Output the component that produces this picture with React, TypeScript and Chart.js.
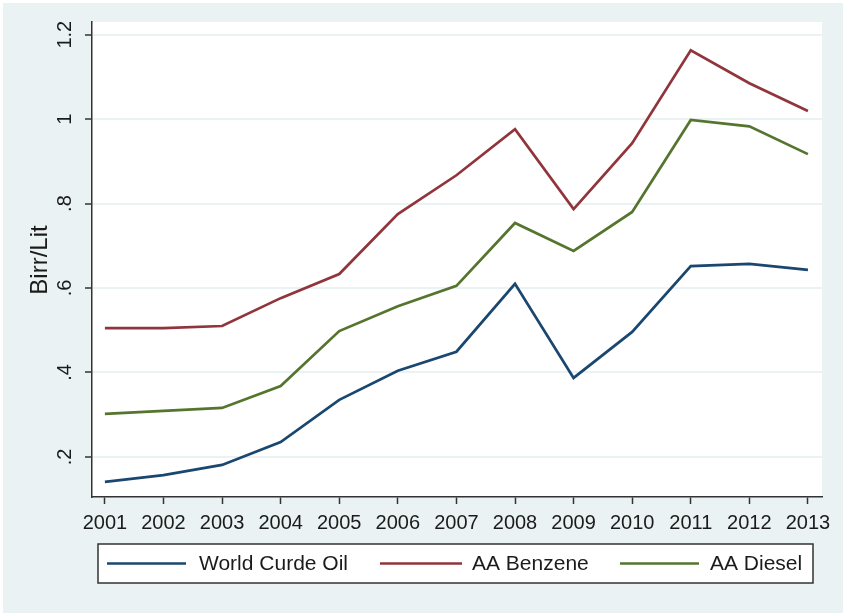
import React, { useEffect, useRef } from "react";
import { Chart, registerables } from "chart.js";

Chart.register(...registerables);

const years = [2001, 2002, 2003, 2004, 2005, 2006, 2007, 2008, 2009, 2010, 2011, 2012, 2013];
const worldCrudeOil = [0.141, 0.157, 0.181, 0.235, 0.335, 0.404, 0.449, 0.61, 0.387, 0.496, 0.652, 0.657, 0.643];
const aaBenzene = [0.505, 0.505, 0.51, 0.576, 0.633, 0.775, 0.867, 0.976, 0.787, 0.943, 1.163, 1.085, 1.019];
const aaDiesel = [0.302, 0.309, 0.316, 0.368, 0.498, 0.557, 0.605, 0.754, 0.688, 0.78, 0.998, 0.983, 0.917];
const seriesLabels = ["World Curde Oil", "AA Benzene", "AA Diesel"];
const yTickValues = [0.2, 0.4, 0.6, 0.8, 1.0, 1.2];
const yTickLabels = [".2", ".4", ".6", ".8", "1", "1.2"];
const yTitle = "Birr/Lit";

const BG = "#eaf2f3";
const FONT = "'Liberation Sans', Arial, sans-serif";
const TEXT = "#1b1b1b";
const AXIS = "#333333";
const COLORS = ["#1a476f", "#90353b", "#55752f"];

const decorPlugin = {
  id: "decor",
  beforeDraw(chart: any) {
    const { ctx, chartArea, width, height } = chart;
    ctx.save();
    ctx.fillStyle = BG;
    ctx.fillRect(0, 0, width, height);
    ctx.fillStyle = "#ffffff";
    ctx.fillRect(chartArea.left, chartArea.top, chartArea.right - chartArea.left, chartArea.bottom - chartArea.top);
    ctx.restore();
  },
  afterDraw(chart: any) {
    const { ctx, chartArea } = chart;
    const y = chart.scales.y;
    ctx.save();
    ctx.fillStyle = TEXT;
    ctx.font = `20px ${FONT}`;
    ctx.textAlign = "center";
    ctx.textBaseline = "middle";
    yTickValues.forEach((v, i) => {
      const py = y.getPixelForValue(v);
      ctx.save();
      ctx.translate(62, py);
      ctx.rotate(-Math.PI / 2);
      ctx.fillText(yTickLabels[i], 0, 0);
      ctx.restore();
    });
    ctx.save();
    ctx.font = `24px ${FONT}`;
    ctx.translate(37, 257);
    ctx.rotate(-Math.PI / 2);
    ctx.fillText(yTitle, 0, 0);
    ctx.restore();

    // legend
    const bx = 95, by = 541, bw = 715, bh = 39;
    ctx.fillStyle = "#ffffff";
    ctx.fillRect(bx, by, bw, bh);
    ctx.strokeStyle = AXIS;
    ctx.lineWidth = 1.5;
    ctx.strokeRect(bx, by, bw, bh);
    const items = [
      { l0: 104, l1: 183, t: 196 },
      { l0: 377, l1: 459, t: 469 },
      { l0: 617, l1: 696, t: 707 },
    ];
    const cy = by + bh / 2;
    chart.data.datasets.forEach((ds: any, i: number) => {
      const it = items[i];
      ctx.strokeStyle = ds.borderColor;
      ctx.lineWidth = 2.5;
      ctx.beginPath();
      ctx.moveTo(it.l0, cy);
      ctx.lineTo(it.l1, cy);
      ctx.stroke();
      ctx.fillStyle = TEXT;
      ctx.font = `21px ${FONT}`;
      ctx.textAlign = "left";
      ctx.textBaseline = "middle";
      ctx.fillText(ds.label, it.t, cy + 1);
    });
    ctx.restore();
  },
};

export default function App() {
  const ref = useRef<HTMLCanvasElement | null>(null);
  useEffect(() => {
    if (!ref.current) return;
    const mk = (data: number[]) => years.map((x, i) => ({ x, y: data[i] }));
    const chart = new Chart(ref.current, {
      type: "line",
      data: {
        datasets: [worldCrudeOil, aaBenzene, aaDiesel].map((d, i) => ({
          label: seriesLabels[i],
          data: mk(d),
          borderColor: COLORS[i],
          backgroundColor: COLORS[i],
          borderWidth: 2.7,
          pointRadius: 0,
          tension: 0,
          fill: false,
        })),
      },
      options: {
        animation: false,
        responsive: false,
        maintainAspectRatio: false,
        layout: { padding: { left: 0, top: 19, right: 21, bottom: 0 } },
        plugins: { legend: { display: false }, tooltip: { enabled: false } },
        scales: {
          x: {
            type: "linear",
            min: 2000.78,
            max: 2013.24,
            afterBuildTicks: (s: any) => {
              s.ticks = years.map((v) => ({ value: v }));
            },
            afterFit: (s: any) => {
              s.height = 116;
            },
            ticks: {
              autoSkip: false,
              maxRotation: 0,
              minRotation: 0,
              padding: 7,
              color: TEXT,
              font: { family: FONT, size: 20 },
              callback: (v: any) => String(v),
            },
            grid: { drawOnChartArea: false, drawTicks: true, tickLength: 7, tickColor: AXIS, tickWidth: 1.5 },
            border: { display: true, color: AXIS, width: 1.5 },
          },
          y: {
            type: "linear",
            min: 0.105,
            max: 1.23,
            afterBuildTicks: (s: any) => {
              s.ticks = yTickValues.map((v) => ({ value: v }));
            },
            afterFit: (s: any) => {
              s.width = 89;
            },
            ticks: { display: false },
            grid: { color: BG, lineWidth: 2, drawTicks: true, tickLength: 7, tickColor: AXIS, tickWidth: 1.5 },
            border: { display: true, color: AXIS, width: 1.5 },
          },
        },
      },
      plugins: [decorPlugin],
    } as any);
    return () => chart.destroy();
  }, []);
  return (
    <div style={{ position: "fixed", left: 0, top: 0, width: 843, height: 613, background: "#ffffff" }}>
      <canvas ref={ref} width={840} height={610} style={{ position: "absolute", left: 3, top: 3, width: 840, height: 610 }} />
    </div>
  );
}
